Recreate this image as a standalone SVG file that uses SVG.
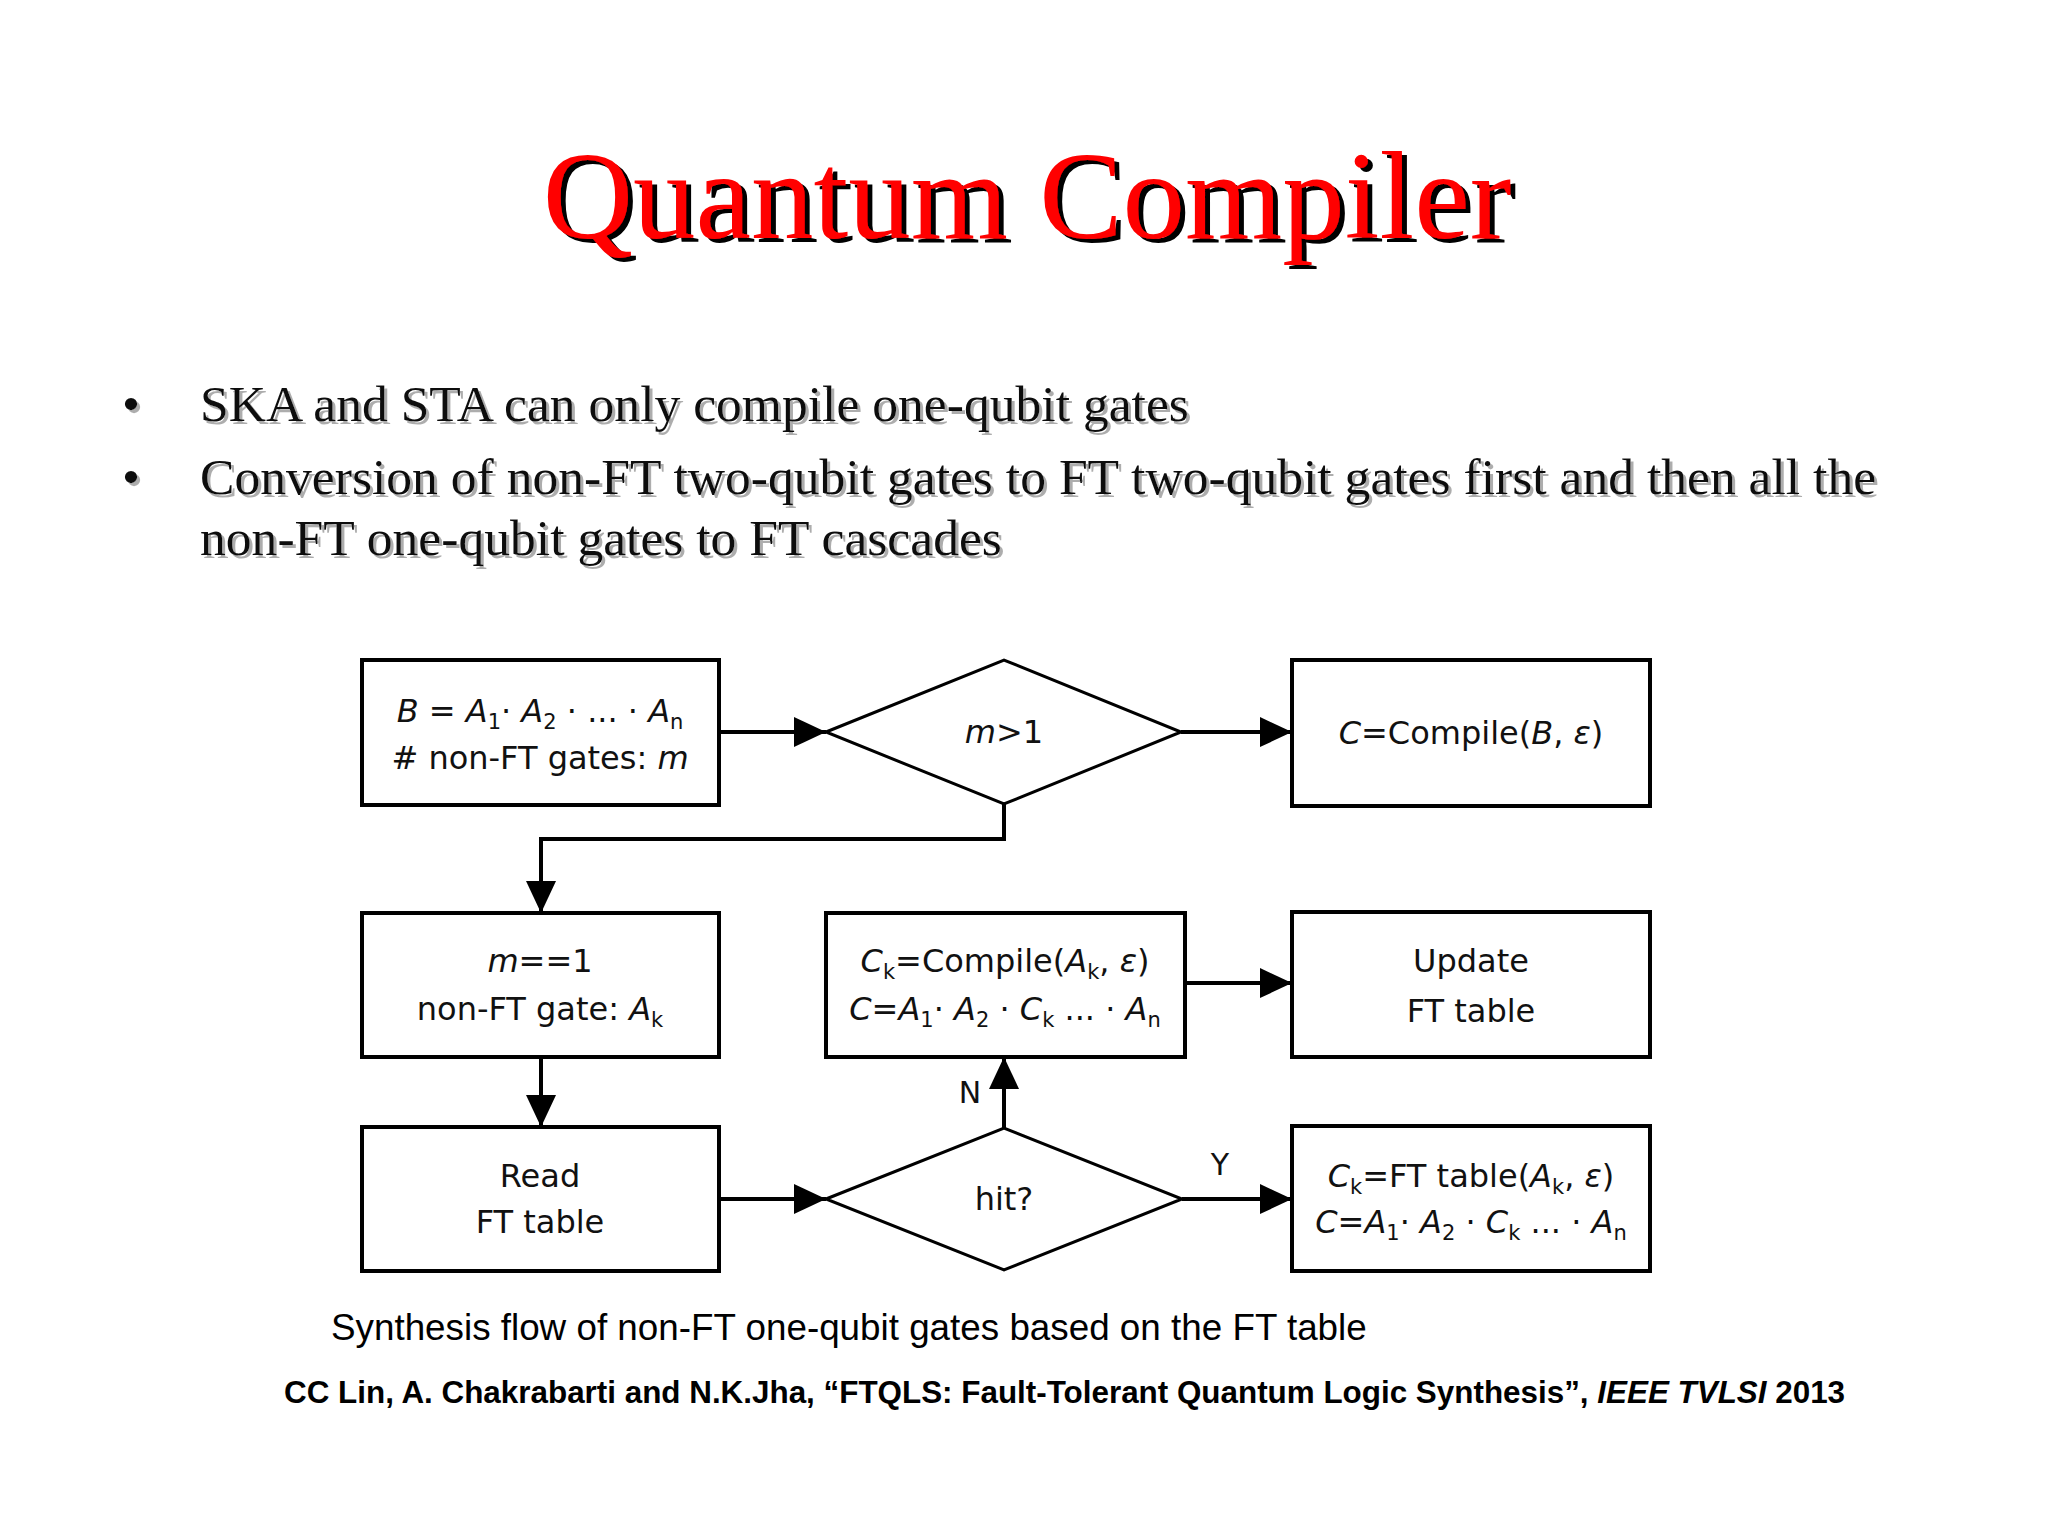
<svg xmlns="http://www.w3.org/2000/svg" width="2048" height="1536" viewBox="0 0 2048 1536">
<defs>
<style>
.title{font-family:"Liberation Serif","Times New Roman",serif;font-size:125px;text-anchor:middle;fill:#ff0000}
.bul{font-family:"Liberation Serif","Times New Roman",serif;font-size:51.6px;fill:#111}
.box{fill:#fff;stroke:#000;stroke-width:4}
.dia{fill:#fff;stroke:#000;stroke-width:3}
.t{font-family:"DejaVu Sans",Verdana,sans-serif;font-size:32px;fill:#111;text-anchor:middle}
.i{font-style:italic}
.s{font-size:21px}
.lbl{font-family:"DejaVu Sans",Verdana,sans-serif;font-size:30px;fill:#111;text-anchor:middle}
.con{fill:none;stroke:#000;stroke-width:4}
.cap{font-family:"Liberation Sans",Arial,sans-serif;font-size:36.8px;fill:#000}
.cite{font-family:"Liberation Sans",Arial,sans-serif;font-size:31.4px;font-weight:bold;fill:#000}
</style>
<filter id="tshadow" x="-5%" y="-20%" width="110%" height="140%">
<feDropShadow dx="5" dy="4" stdDeviation="0" flood-color="#000" flood-opacity="1"/>
</filter>
<filter id="bshadow" x="-5%" y="-20%" width="110%" height="140%">
<feDropShadow dx="3" dy="3" stdDeviation="0.5" flood-color="#999" flood-opacity="0.8"/>
</filter>
<marker id="ah" markerUnits="userSpaceOnUse" markerWidth="32" markerHeight="30" refX="32" refY="15" orient="auto">
<path d="M0,0 L32,15 L0,30 z" fill="#000"/>
</marker>
</defs>
<rect width="2048" height="1536" fill="#fff"/>

<g id="title">
<text class="title" x="1027" y="238" filter="url(#tshadow)">Quantum Compiler</text>
</g>

<g id="bullets" filter="url(#bshadow)">
<text class="bul" x="122" y="421">•</text>
<text class="bul" x="200" y="421">SKA and STA can only compile one-qubit gates</text>
<text class="bul" x="122" y="494">•</text>
<text class="bul" x="200" y="494">Conversion of non-FT two-qubit gates to FT two-qubit gates first and then all the</text>
<text class="bul" x="200" y="555">non-FT one-qubit gates to FT cascades</text>
</g>

<g id="connectors">
<line class="con" x1="719" y1="732" x2="826" y2="732" marker-end="url(#ah)"/>
<line class="con" x1="1181" y1="732" x2="1292" y2="732" marker-end="url(#ah)"/>
<polyline class="con" points="1004,804 1004,839 541,839 541,913" marker-end="url(#ah)"/>
<line class="con" x1="541" y1="1057" x2="541" y2="1127" marker-end="url(#ah)"/>
<line class="con" x1="719" y1="1199" x2="826" y2="1199" marker-end="url(#ah)"/>
<line class="con" x1="1004" y1="1128" x2="1004" y2="1057" marker-end="url(#ah)"/>
<line class="con" x1="1185" y1="983" x2="1292" y2="983" marker-end="url(#ah)"/>
<line class="con" x1="1182" y1="1199" x2="1292" y2="1199" marker-end="url(#ah)"/>
<text class="lbl" x="970" y="1103">N</text>
<text class="lbl" x="1220" y="1175">Y</text>
</g>

<g id="start">
<rect class="box" x="362" y="660" width="357" height="145"/>
<text class="t" x="540" y="722"><tspan class="i">B</tspan> = <tspan class="i">A</tspan><tspan class="s" dy="7">1</tspan><tspan dy="-7">· </tspan><tspan class="i">A</tspan><tspan class="s" dy="7">2</tspan><tspan dy="-7"> · ... · </tspan><tspan class="i">A</tspan><tspan class="s" dy="7">n</tspan></text>
<text class="t" x="540" y="769"># non-FT gates: <tspan class="i">m</tspan></text>
</g>

<g id="dec1">
<polygon class="dia" points="826,732 1004,660 1181,732 1004,804"/>
<text class="t" x="1004" y="743"><tspan class="i">m</tspan>&gt;1</text>
</g>

<g id="compileB">
<rect class="box" x="1292" y="660" width="358" height="146"/>
<text class="t" x="1471" y="744"><tspan class="i">C</tspan>=Compile(<tspan class="i">B</tspan>, <tspan class="i">ε</tspan>)</text>
</g>

<g id="single">
<rect class="box" x="362" y="913" width="357" height="144"/>
<text class="t" x="540" y="972"><tspan class="i">m</tspan>==1</text>
<text class="t" x="540" y="1020">non-FT gate: <tspan class="i">A</tspan><tspan class="s" dy="7">k</tspan></text>
</g>

<g id="compileA">
<rect class="box" x="826" y="913" width="359" height="144"/>
<text class="t" x="1005" y="972"><tspan class="i">C</tspan><tspan class="s" dy="7">k</tspan><tspan dy="-7">=Compile(</tspan><tspan class="i">A</tspan><tspan class="s" dy="7">k</tspan><tspan dy="-7">, </tspan><tspan class="i">ε</tspan>)</text>
<text class="t" x="1005" y="1020"><tspan class="i">C</tspan>=<tspan class="i">A</tspan><tspan class="s" dy="7">1</tspan><tspan dy="-7">· </tspan><tspan class="i">A</tspan><tspan class="s" dy="7">2</tspan><tspan dy="-7"> · </tspan><tspan class="i">C</tspan><tspan class="s" dy="7">k</tspan><tspan dy="-7"> ... · </tspan><tspan class="i">A</tspan><tspan class="s" dy="7">n</tspan></text>
</g>

<g id="update">
<rect class="box" x="1292" y="912" width="358" height="145"/>
<text class="t" x="1471" y="972">Update</text>
<text class="t" x="1471" y="1022">FT table</text>
</g>

<g id="read">
<rect class="box" x="362" y="1127" width="357" height="144"/>
<text class="t" x="540" y="1187">Read</text>
<text class="t" x="540" y="1233">FT table</text>
</g>

<g id="dec2">
<polygon class="dia" points="826,1199 1004,1128 1182,1199 1004,1270"/>
<text class="t" x="1004" y="1210">hit?</text>
</g>

<g id="ftlookup">
<rect class="box" x="1292" y="1126" width="358" height="145"/>
<text class="t" x="1471" y="1187"><tspan class="i">C</tspan><tspan class="s" dy="7">k</tspan><tspan dy="-7">=FT table(</tspan><tspan class="i">A</tspan><tspan class="s" dy="7">k</tspan><tspan dy="-7">, </tspan><tspan class="i">ε</tspan>)</text>
<text class="t" x="1471" y="1233"><tspan class="i">C</tspan>=<tspan class="i">A</tspan><tspan class="s" dy="7">1</tspan><tspan dy="-7">· </tspan><tspan class="i">A</tspan><tspan class="s" dy="7">2</tspan><tspan dy="-7"> · </tspan><tspan class="i">C</tspan><tspan class="s" dy="7">k</tspan><tspan dy="-7"> ... · </tspan><tspan class="i">A</tspan><tspan class="s" dy="7">n</tspan></text>
</g>

<g id="captions">
<text class="cap" x="331" y="1340">Synthesis flow of non-FT one-qubit gates based on the FT table</text>
<text class="cite" x="284" y="1403">CC Lin, A. Chakrabarti and N.K.Jha, “FTQLS: Fault-Tolerant Quantum Logic Synthesis”, <tspan font-style="italic">IEEE TVLSI</tspan> 2013</text>
</g>
</svg>
